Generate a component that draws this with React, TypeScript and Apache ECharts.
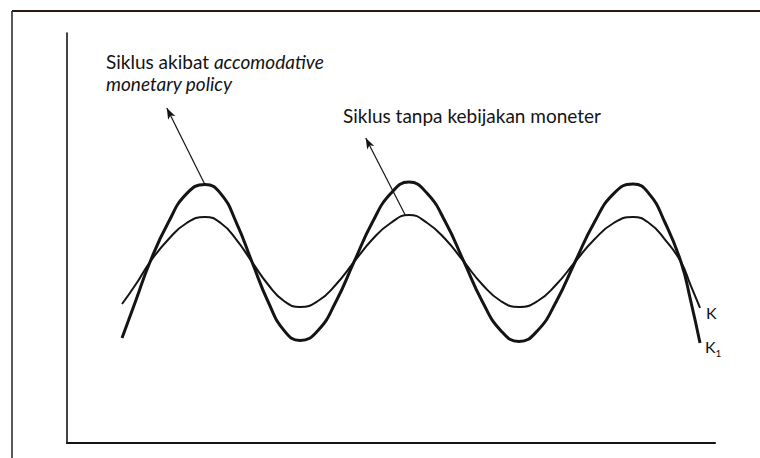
import React, { useEffect, useRef } from "react";
import * as echarts from "echarts";

// Conceptual units: x 0..100 (time), y 0..100 (output level)
const cycleX = [8.49, 10.65, 12.81, 15.63, 18.47, 21.3, 23.72, 26.13, 28.55, 31.02, 33.49, 35.96, 38.73, 41.51, 44.29, 47.11, 49.95, 52.78, 55.6, 58.44, 61.27, 64.09, 66.93, 69.75, 72.64, 75.51, 78.4, 81.37, 84.37, 87.35, 89.81, 92.28, 94.75, 96.22, 97.69];
// K1: cycle under accomodative monetary policy (larger swings)
const accomY = [25.61, 34.88, 44.15, 53.78, 60.83, 63.05, 60.83, 53.78, 44.15, 34.51, 27.46, 25.0, 27.46, 34.51, 44.15, 53.78, 60.83, 63.66, 60.83, 53.78, 44.15, 34.51, 27.46, 24.76, 27.46, 34.51, 44.15, 53.78, 60.83, 63.17, 60.83, 53.78, 44.15, 34.88, 24.39];
// K: cycle without monetary policy
const noPolicyY = [33.9, 38.78, 44.15, 49.63, 53.66, 55.12, 53.66, 49.63, 44.15, 38.66, 34.63, 33.17, 34.63, 38.66, 44.15, 49.63, 53.66, 55.61, 53.66, 49.63, 44.15, 38.66, 34.63, 33.17, 34.63, 38.66, 44.15, 49.63, 53.66, 55.12, 53.66, 49.63, 44.15, 38.54, 32.93];

const arrowAccomFrom = [15.4, 81.7];
const arrowAccomTo = [21.3, 63.0];
const arrowNoPolicyFrom = [46.1, 74.4];
const arrowNoPolicyTo = [52.2, 55.6];

const labelAccomUpright = "Siklus akibat ";
const labelAccomItalic1 = "accomodative";
const labelAccomItalic2 = "monetary policy";
const labelNoPolicy = "Siklus tanpa kebijakan moneter";
const endLabelK = "K";
const endLabelK1 = "K";
const endLabelK1Sub = "1";

const FONT = "Lato, 'Noto Sans', sans-serif";
const INK = "#141414";

export default function App() {
  const ref = useRef<HTMLDivElement>(null);
  useEffect(() => {
    document.body.style.margin = "0";
    const chart = echarts.init(ref.current!, null, { renderer: "svg" });
    const arrowLine = (from: number[], to: number[]) => [
      { coord: from, symbol: "arrow", symbolSize: [6, 11] },
      { coord: to, symbol: "none" },
    ];
    chart.setOption({
      animation: false,
      backgroundColor: "#ffffff",
      grid: { left: 67, right: 45, top: 33, bottom: 15 },
      xAxis: {
        type: "value",
        min: 0,
        max: 100,
        axisLine: { show: true, onZero: false, lineStyle: { color: INK, width: 2.2 } },
        axisTick: { show: false },
        axisLabel: { show: false },
        splitLine: { show: false },
      },
      yAxis: {
        type: "value",
        min: 0,
        max: 100,
        axisLine: { show: true, onZero: false, lineStyle: { color: INK, width: 1.6 } },
        axisTick: { show: false },
        axisLabel: { show: false },
        splitLine: { show: false },
      },
      series: [
        {
          type: "line",
          name: "K1",
          data: cycleX.map((x, i) => [x, accomY[i]]),
          smooth: 0.5,
          showSymbol: false,
          symbol: "none",
          lineStyle: { color: INK, width: 3 },
          endLabel: {
            show: true,
            formatter: `${endLabelK1}{s|${endLabelK1Sub}}`,
            color: INK,
            fontFamily: FONT,
            fontSize: 16,
            distance: 5,
            offset: [0, 3],
            rich: { s: { fontSize: 10, padding: [14, 0, 0, 0], color: INK, fontFamily: FONT } },
          },
          markLine: {
            silent: true,
            animation: false,
            label: { show: false },
            lineStyle: { color: INK, width: 1.2, type: "solid" },
            data: [arrowLine(arrowAccomFrom, arrowAccomTo)],
          },
        },
        {
          type: "line",
          name: "K",
          data: cycleX.map((x, i) => [x, noPolicyY[i]]),
          smooth: 0.5,
          showSymbol: false,
          symbol: "none",
          lineStyle: { color: INK, width: 2 },
          endLabel: {
            show: true,
            formatter: endLabelK,
            color: INK,
            fontFamily: FONT,
            fontSize: 16,
            distance: 6,
            offset: [0, 5],
          },
          markLine: {
            silent: true,
            animation: false,
            label: { show: false },
            lineStyle: { color: INK, width: 1.2, type: "solid" },
            data: [arrowLine(arrowNoPolicyFrom, arrowNoPolicyTo)],
          },
        },
      ],
      graphic: [
        { type: "line", shape: { x1: 12, y1: 11, x2: 760, y2: 11 }, style: { stroke: "#2a1a14", lineWidth: 2 }, silent: true },
        { type: "line", shape: { x1: 12, y1: 11, x2: 12, y2: 458 }, style: { stroke: "#222", lineWidth: 1.5 }, silent: true },
        {
          type: "text",
          left: 106,
          top: 50,
          silent: true,
          style: {
            text: `{n|${labelAccomUpright}}{i|${labelAccomItalic1}}\n{i|${labelAccomItalic2}}`,
            fill: INK,
            font: `19px ${FONT}`,
            lineHeight: 22,
            rich: {
              n: { fontFamily: FONT, fontSize: 19, fontStyle: "normal", lineHeight: 22, fill: INK },
              i: { fontFamily: FONT, fontSize: 19, fontStyle: "italic", lineHeight: 22, fill: INK },
            },
          },
        },
        {
          type: "text",
          left: 343,
          top: 106,
          silent: true,
          style: { text: labelNoPolicy, fill: INK, font: `19px ${FONT}` },
        },
      ],
    });
    return () => chart.dispose();
  }, []);
  return <div ref={ref} style={{ width: 760, height: 458 }} />;
}
